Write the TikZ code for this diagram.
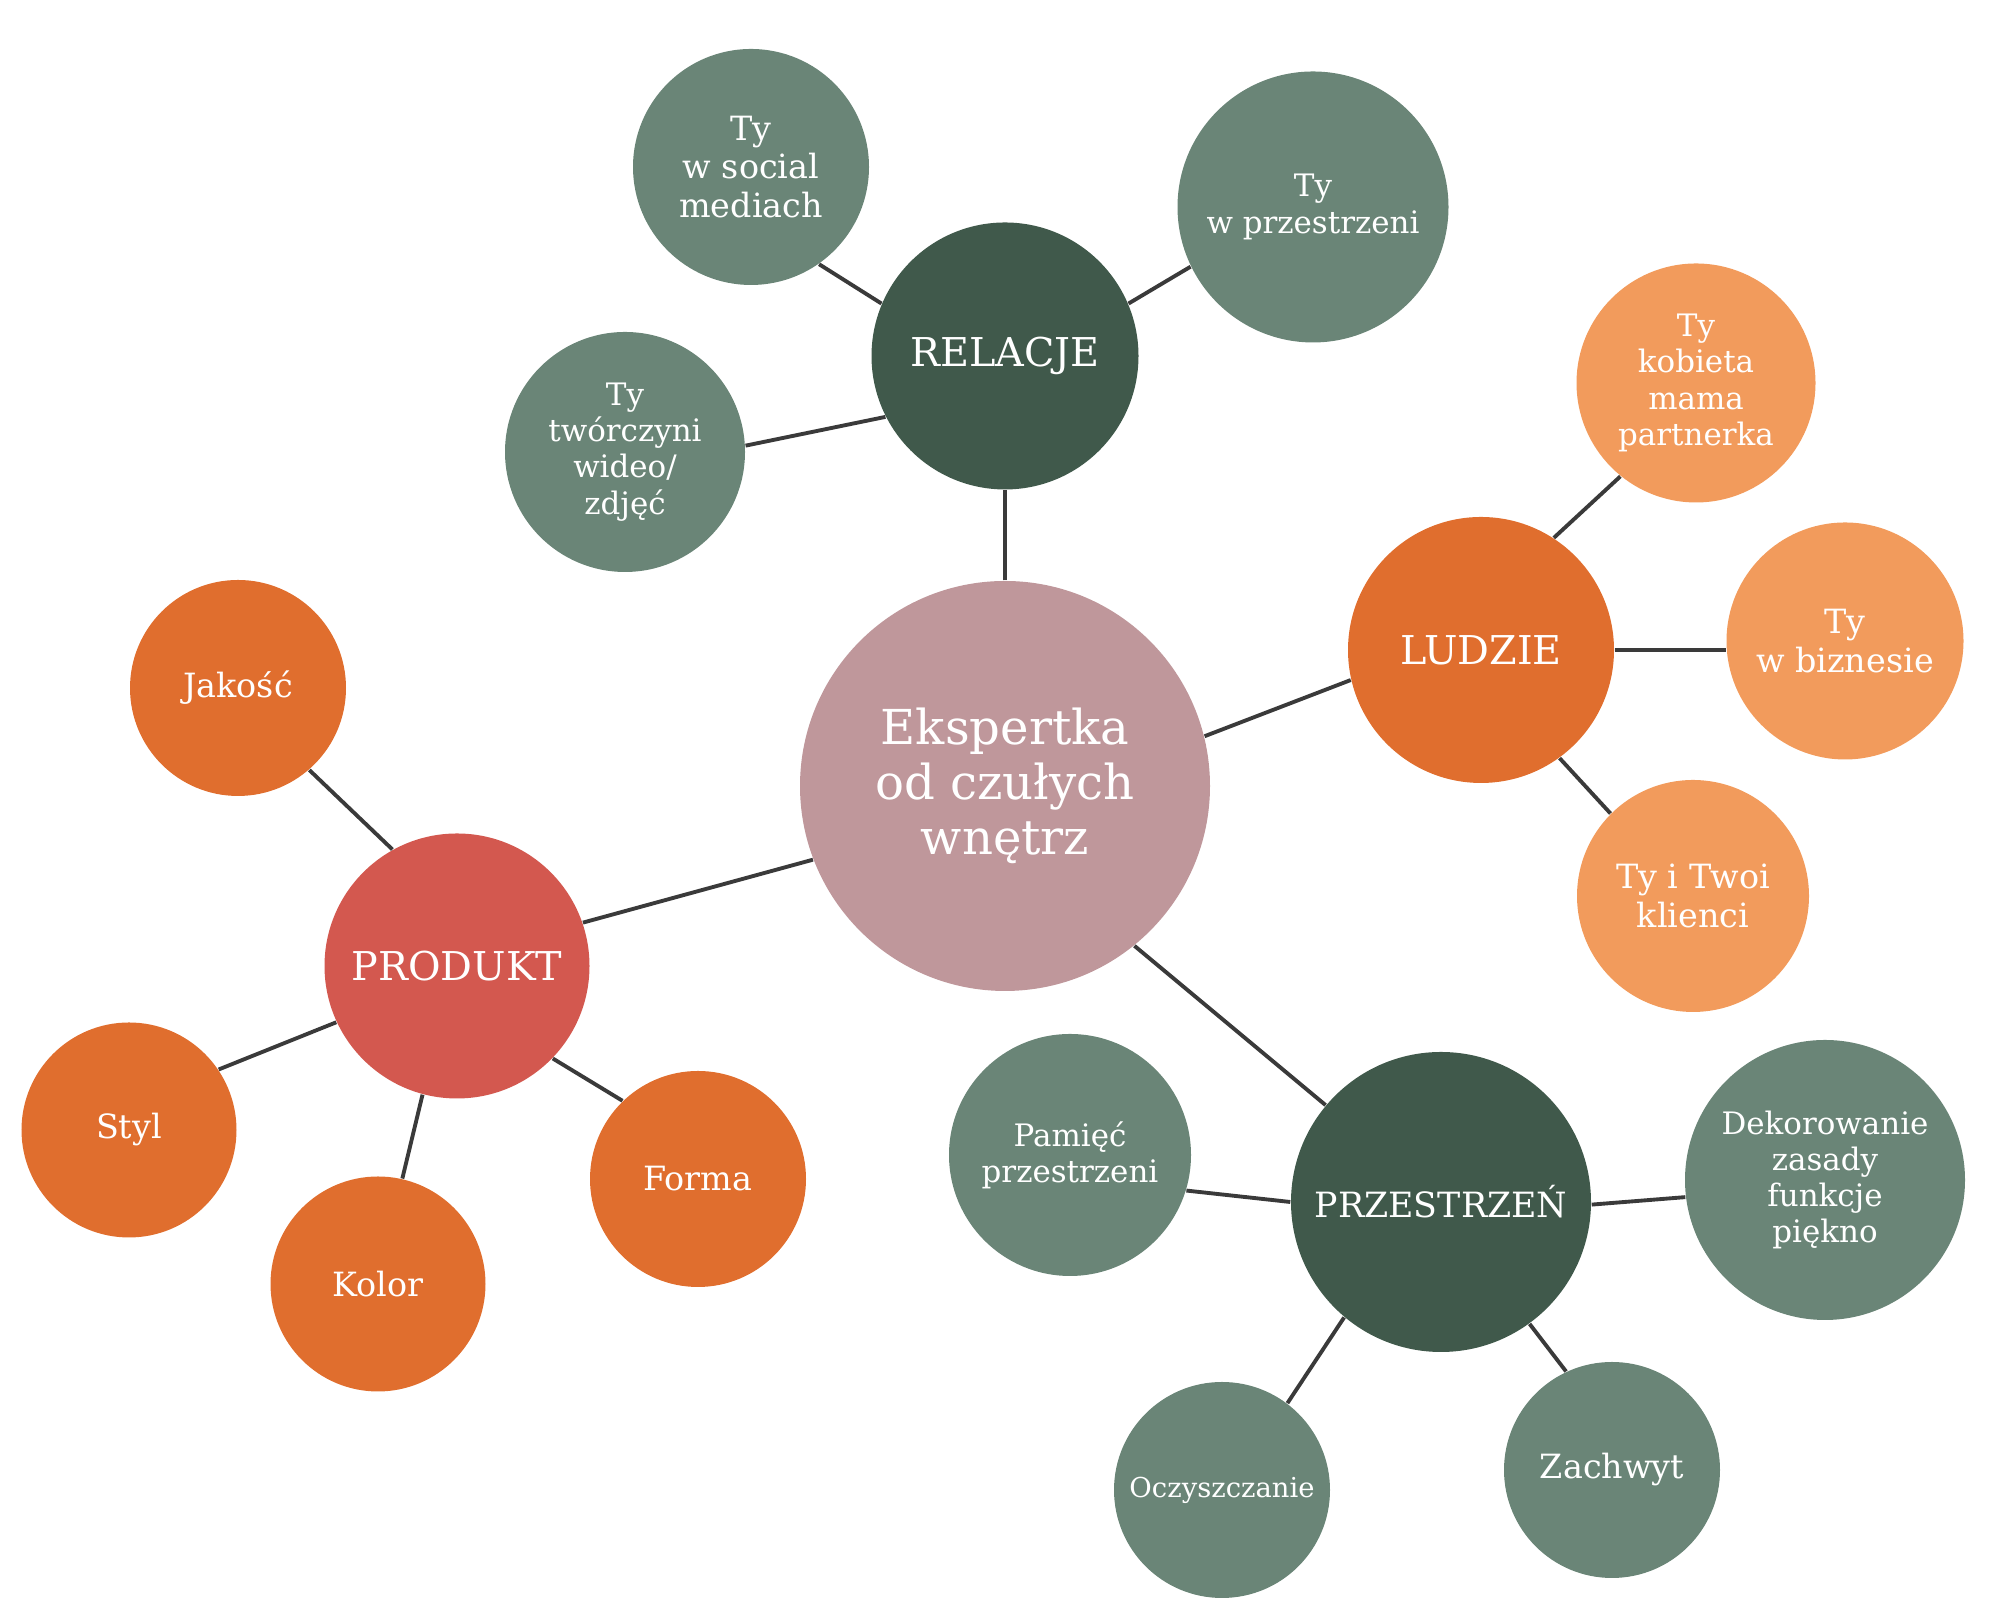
\documentclass[tikz,border=0pt]{standalone}
\usepackage{fontspec}
\setmainfont{DejaVu Serif}
\definecolor{rose}{HTML}{BF979B}
\definecolor{pine}{HTML}{40594B}
\definecolor{sage}{HTML}{6A8577}
\definecolor{rust}{HTML}{E06E2E}
\definecolor{peach}{HTML}{F29B5C}
\definecolor{brick}{HTML}{D3584F}
\definecolor{edgegray}{HTML}{3A3A3A}

\begin{document}
\begin{tikzpicture} [bubble/.style={circle, inner sep=0pt, text=white, align=center, font=\fontsize{9.5}{11}\selectfont},
  hub/.style={bubble, font=\fontsize{11.3}{13}\selectfont},
  small/.style={font=\fontsize{8.8}{10.3}\selectfont},
  link/.style={draw=edgegray, line width=1.1pt}]
\useasboundingbox (0,0) rectangle (20,16);
\node[bubble, fill=rose, minimum size=4.1cm, font=\fontsize{13.7}{15.6}\selectfont] (core) at (10.05,8.14) {Ekspertka\\od czułych\\wnętrz};
\node[hub, fill=pine, minimum size=2.67cm] (rel) at (10.05,12.44) {RELACJE};
\node[bubble, fill=sage, minimum size=2.36cm] (social) at (7.51,14.33) {Ty\\w social\\mediach};
\node[bubble, small, fill=sage, minimum size=2.71cm] (space) at (13.13,13.93) {Ty\\w przestrzeni};
\node[bubble, small, fill=sage, minimum size=2.4cm] (creator) at (6.25,11.48) {Ty\\twórczyni\\wideo/\\zdjęć};
\node[hub, fill=rust, minimum size=2.66cm] (people) at (14.81,9.5) {LUDZIE};
\node[bubble, small, fill=peach, minimum size=2.39cm] (woman) at (16.96,12.17) {Ty\\kobieta\\mama\\partnerka};
\node[bubble, fill=peach, minimum size=2.37cm] (business) at (18.45,9.59) {Ty\\w biznesie};
\node[bubble, fill=peach, minimum size=2.32cm] (clients) at (16.93,7.04) {Ty i Twoi\\klienci};
\node[hub, fill=brick, minimum size=2.65cm] (product) at (4.57,6.34) {PRODUKT};
\node[bubble, fill=rust, minimum size=2.16cm] (qual) at (2.38,9.12) {Jakość};
\node[bubble, fill=rust, minimum size=2.15cm] (styl) at (1.29,4.7) {Styl};
\node[bubble, fill=rust, minimum size=2.15cm] (colour) at (3.78,3.16) {Kolor};
\node[bubble, fill=rust, minimum size=2.16cm] (form) at (6.98,4.21) {Forma};
\node[hub, fill=pine, minimum size=3cm, font=\fontsize{9.9}{12}\selectfont] (room) at (14.41,3.98) {PRZESTRZEŃ};
\node[bubble, small, fill=sage, minimum size=2.42cm] (memory) at (10.7,4.45) {Pamięć\\przestrzeni};
\node[bubble, small, fill=sage, minimum size=2.8cm] (deco) at (18.25,4.2) {Dekorowanie\\zasady\\funkcje\\piękno};
\node[bubble, fill=sage, minimum size=2.16cm, font=\fontsize{7.8}{9}\selectfont] (cleanse) at (12.22,1.1) {Oczyszczanie};
\node[bubble, fill=sage, minimum size=2.16cm] (awe) at (16.12,1.3) {Zachwyt};
\draw[link] (core.north) -- (rel.south);
\draw[link] (core.14) -- (people.193);
\draw[link] (core.201) -- (product.19);
\draw[link] (core.-51) -- (room.140);
\draw[link] (rel.157) -- (social.-55);
\draw[link] (rel.23) -- (space.206);
\draw[link] (rel.207) -- (creator.3);
\draw[link] (people.57) -- (woman.231);
\draw[link] (people.east) -- (people.east -| business.west);
\draw[link] (people.-54) -- (clients.135);
\draw[link] (product.119) -- (qual.-49);
\draw[link] (product.205) -- (styl.34);
\draw[link] (product.255) -- (colour.77);
\draw[link] (product.-44) -- (form.134);
\draw[link] (room.west) -- (memory.-17);
\draw[link] (room.-1) -- (deco.187);
\draw[link] (room.230) -- (cleanse.53);
\draw[link] (room.-54) -- (awe.115);
\end{tikzpicture}
\end{document}
